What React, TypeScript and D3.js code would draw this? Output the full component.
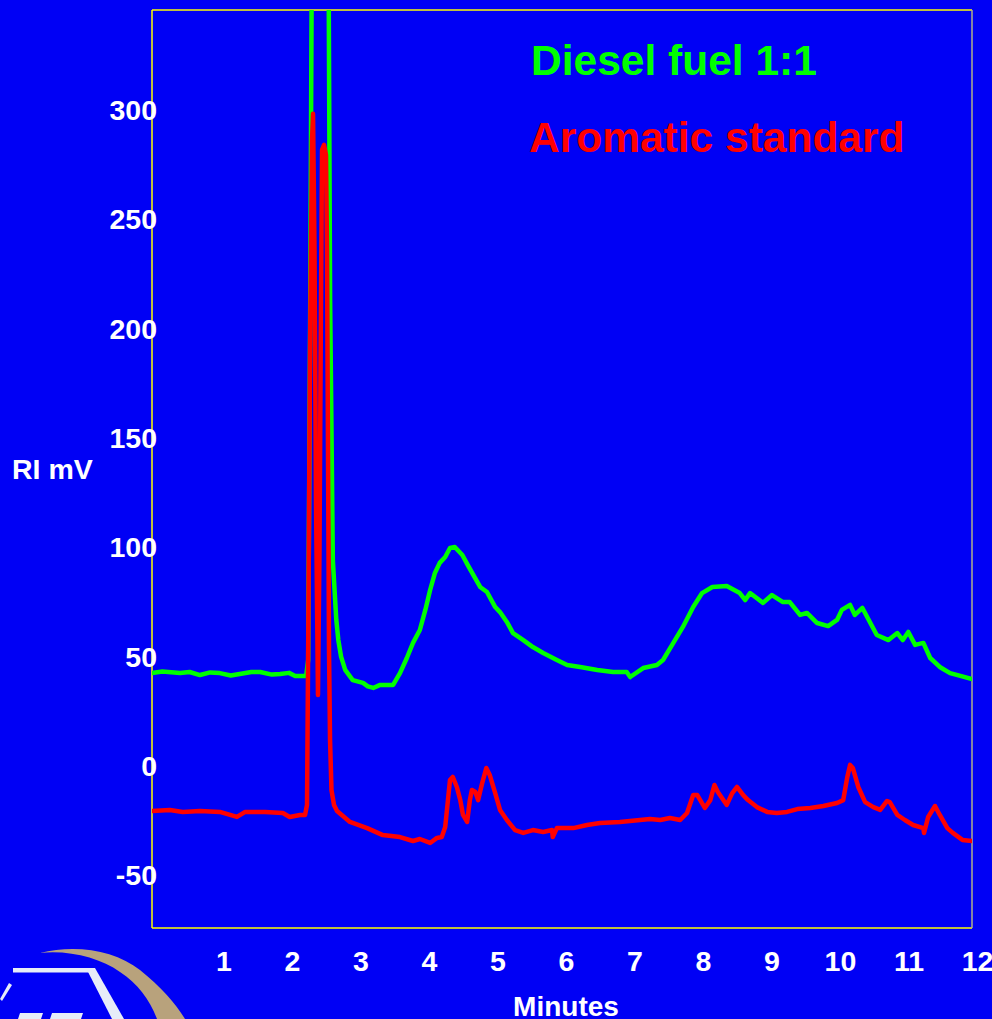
import React from "react";
import * as d3 from "d3";

const W = 992;
const H = 1019;

// Diesel fuel 1:1 (green) — minutes / RI mV
const dieselMinutes = [
  -0.05, 0.1, 0.36, 0.5, 0.65, 0.8, 0.94, 1.1, 1.23, 1.4, 1.53, 1.7, 1.82, 1.95, 2.04, 2.2, 2.23, 2.26, 2.29, 2.52,
  2.55, 2.59, 2.64, 2.67, 2.71, 2.77, 2.88, 3.03, 3.1, 3.18, 3.28, 3.47, 3.57, 3.67, 3.76, 3.86, 3.94, 4.01, 4.08,
  4.15, 4.23, 4.3, 4.37, 4.48, 4.56, 4.64, 4.74, 4.84, 4.96, 5.03, 5.13, 5.22, 5.37, 5.51, 5.66, 5.86, 6.01, 6.2,
  6.45, 6.68, 6.88, 6.93, 7.12, 7.32, 7.41, 7.56, 7.7, 7.85, 7.98, 8.13, 8.34, 8.53, 8.61, 8.68, 8.87, 9.0, 9.16,
  9.26, 9.41, 9.51, 9.66, 9.82, 9.95, 10.02, 10.14, 10.21, 10.32, 10.53, 10.7, 10.83, 10.91, 10.99, 11.09, 11.21,
  11.31, 11.45, 11.6, 11.75, 11.92,
];
const dieselMv = [
  42.5, 43.2, 42.5, 43.0, 41.6, 42.8, 42.5, 41.4, 42.1, 43.0, 43.0, 41.8, 42.1, 42.6, 41.2, 41.2, 48.5, 213, 420, 420,
  213, 94, 67, 57.6, 50, 44, 39.3, 38.0, 36.4, 35.7, 37.1, 37.1, 42.5, 49.4, 56.3, 62.2, 71.4, 80.5, 88.3,
  92.9, 95.6, 99.7, 100.2, 96.5, 91.9, 87.4, 81.9, 79.6, 72.7, 70.4, 65.9, 60.8, 57.6, 54.4, 51.7, 48.5, 46.2, 45.3,
  43.9, 43.0, 43.0, 40.7, 44.8, 46.2, 48.5, 56.3, 63.6, 72.7, 79.1, 81.9, 82.3, 79.1, 75.9, 79.1, 74.6, 78.2, 75.0,
  75.0, 69.1, 70.0, 65.4, 64.0, 66.8, 71.4, 73.7, 69.1, 72.3, 59.9, 57.6, 60.8, 57.6, 61.3, 55.4, 56.3,
  49.4, 45.3, 42.5, 41.2, 39.8,
];

// Aromatic standard (red) — minutes / RI mV
const aromaticMinutes = [
  -0.05, 0.21, 0.4, 0.65, 0.94, 1.19, 1.31, 1.6, 1.86, 1.96, 2.11, 2.184, 2.213, 2.235, 2.257, 2.286, 2.301, 2.322,
  2.344, 2.373, 2.395, 2.417, 2.432, 2.461, 2.49, 2.505, 2.519, 2.534, 2.549, 2.57, 2.607, 2.651, 2.84, 3.09, 3.32,
  3.57, 3.76, 3.86, 4.01, 4.11, 4.18, 4.23, 4.27, 4.3, 4.34, 4.4, 4.45, 4.49, 4.55, 4.59, 4.62, 4.67, 4.71, 4.77,
  4.83, 4.88, 4.96, 5.03, 5.13, 5.25, 5.37, 5.51, 5.66, 5.79, 5.8, 5.86, 6.1, 6.3, 6.49, 6.78, 7.22, 7.37, 7.51,
  7.66, 7.76, 7.85, 7.91, 8.02, 8.1, 8.16, 8.21, 8.34, 8.42, 8.49, 8.58, 8.65, 8.78, 8.93, 9.07, 9.22, 9.37, 9.56,
  9.75, 9.95, 10.04, 10.1, 10.14, 10.18, 10.26, 10.36, 10.48, 10.58, 10.68, 10.72, 10.83, 10.94, 11.06, 11.21,
  11.22, 11.28, 11.38, 11.45, 11.56, 11.64, 11.78, 11.92,
];
const aromaticMv = [
  -20.6, -20.1, -21.0, -20.6, -21.0, -23.3, -21.0, -21.0, -21.5, -23.3, -22.4, -22.4, -17.8, 75.9, 190.3, 286.4,
  298.3, 236, 121.7, 32.5, 98.8, 213.2, 281.8, 284.1, 279.5, 236, 144.6, 53.1, 11.9, -11, -17.8, -20.6, -25.6,
  -28.4, -31.6, -32.5, -34.3, -33.4, -35.2, -32.9, -32.5, -27.9, -15.6, -6.4, -5.0, -9.6, -15.6, -22.4, -25.6,
  -15.6, -11.0, -11.9, -15.6, -7.8, -0.9, -4.1, -12.4, -20.1, -24.7, -29.3, -30.6, -29.3, -30.2, -29.3, -32.5,
  -28.4, -28.4, -27.0, -26.1, -25.6, -24.2, -24.7, -23.8, -24.7, -21.5, -13.3, -13.3, -19.2, -15.6, -8.7, -11.9,
  -17.8, -12.4, -9.6, -13.3, -15.6, -18.8, -21.0, -21.5, -21.0, -19.7, -19.2, -18.3, -16.9, -15.6, -5.0, 0.5,
  -0.9, -9.6, -16.5, -18.8, -20.1, -16.0, -16.5, -22.4, -24.7, -27.0, -28.4, -30.6, -23.3, -18.3, -22.4, -28.4,
  -30.6, -33.8, -34.3,
];

const xTicks = [1, 2, 3, 4, 5, 6, 7, 8, 9, 10, 11, 12];
const yTicks = [-50, 0, 50, 100, 150, 200, 250, 300];
const legendLabels = ["Diesel fuel 1:1", "Aromatic standard"];

const BG = "#0000f5";
const GREEN = "#00ff00";
const RED = "#ff0000";
const FONT = "'Liberation Sans', Arial, Helvetica, sans-serif";

export default function App() {
  const x = d3.scaleLinear().domain([-0.05, 11.92]).range([152, 972]);
  const y = d3.scaleLinear().domain([-74.1, 345.8]).range([928, 10]);
  const line = d3
    .line<[number, number]>()
    .x((d) => x(d[0]))
    .y((d) => y(d[1]));

  const diesel: [number, number][] = dieselMinutes.map((t, i) => [t, dieselMv[i]]);
  const aromatic: [number, number][] = aromaticMinutes.map((t, i) => [t, aromaticMv[i]]);

  const [x0, x1] = x.range();
  const [yb, yt] = y.range();

  return (
    <div style={{ position: "fixed", left: 0, top: 0, width: W, height: H, overflow: "hidden" }}>
      <svg width={W} height={H} style={{ display: "block" }} fontFamily={FONT}>
        <defs>
          <clipPath id="plotClip">
            <rect x={x0} y={yt} width={x1 - x0} height={yb - yt} />
          </clipPath>
        </defs>
        <rect x={0} y={0} width={W} height={H} fill={BG} />

        {/* Plot frame */}
        <line x1={x0} y1={yt} x2={x1} y2={yt} stroke="#ffff00" strokeWidth={1.5} />
        <line x1={x0} y1={yt} x2={x0} y2={yb} stroke="#ffff00" strokeWidth={1.5} />
        <line x1={x0} y1={yb} x2={x1} y2={yb} stroke="#ffff00" strokeWidth={1.5} />
        <line x1={x1} y1={yt} x2={x1} y2={yb} stroke="#b0b088" strokeWidth={1.5} />

        {/* Series */}
        <g clipPath="url(#plotClip)">
          <path d={line(diesel) || ""} fill="none" stroke={GREEN} strokeWidth={4.5} strokeLinejoin="round" strokeLinecap="round" />
          <path d={line(aromatic) || ""} fill="none" stroke={RED} strokeWidth={4.5} strokeLinejoin="round" strokeLinecap="round" />
        </g>

        {/* Y tick labels */}
        {yTicks.map((v) => (
          <text key={v} x={157} y={y(v) + 10} textAnchor="end" fill="#ffffff" fontWeight="bold" fontSize={28.5}>
            {v}
          </text>
        ))}
        {/* X tick labels */}
        {xTicks.map((t) => (
          <text key={t} x={x(t)} y={971} textAnchor="middle" fill="#ffffff" fontWeight="bold" fontSize={28.5}>
            {t}
          </text>
        ))}

        <text x={12} y={479} fill="#ffffff" fontWeight="bold" fontSize={28.5}>RI mV</text>
        <text x={566} y={1016} textAnchor="middle" fill="#ffffff" fontWeight="bold" fontSize={28}>Minutes</text>

        {/* Legend */}
        <text x={531} y={75} fill={GREEN} fontWeight="bold" fontSize={42.5}>{legendLabels[0]}</text>
        <text x={529} y={152} fill={RED} fontWeight="bold" fontSize={42.5}>{legendLabels[1]}</text>

        {/* Logo fragment (bottom-left) */}
        <g>
          <path
            d="M40,953 C75,944 115,950 140,970 C162,988 176,1004 185,1019 L157,1019 C150,1000 138,984 120,972 C100,958 70,950 40,953 Z"
            fill="#b8a27c"
          />
          <rect x={13} y={968} width={80} height={4.5} fill="#e6ecf8" />
          <path d="M86,968 L95,968 L124,1019 L112,1019 Z" fill="#e6ecf8" />
          <path d="M9,983 L12,985 L2,1001 L0,999 Z" fill="#e6ecf8" />
          <path d="M20,1013 L43,1013 L41,1019 L18,1019 Z" fill="#e6ecf8" />
          <path d="M52,1013 L83,1013 L81,1019 L50,1019 Z" fill="#e6ecf8" />
        </g>
      </svg>
    </div>
  );
}
